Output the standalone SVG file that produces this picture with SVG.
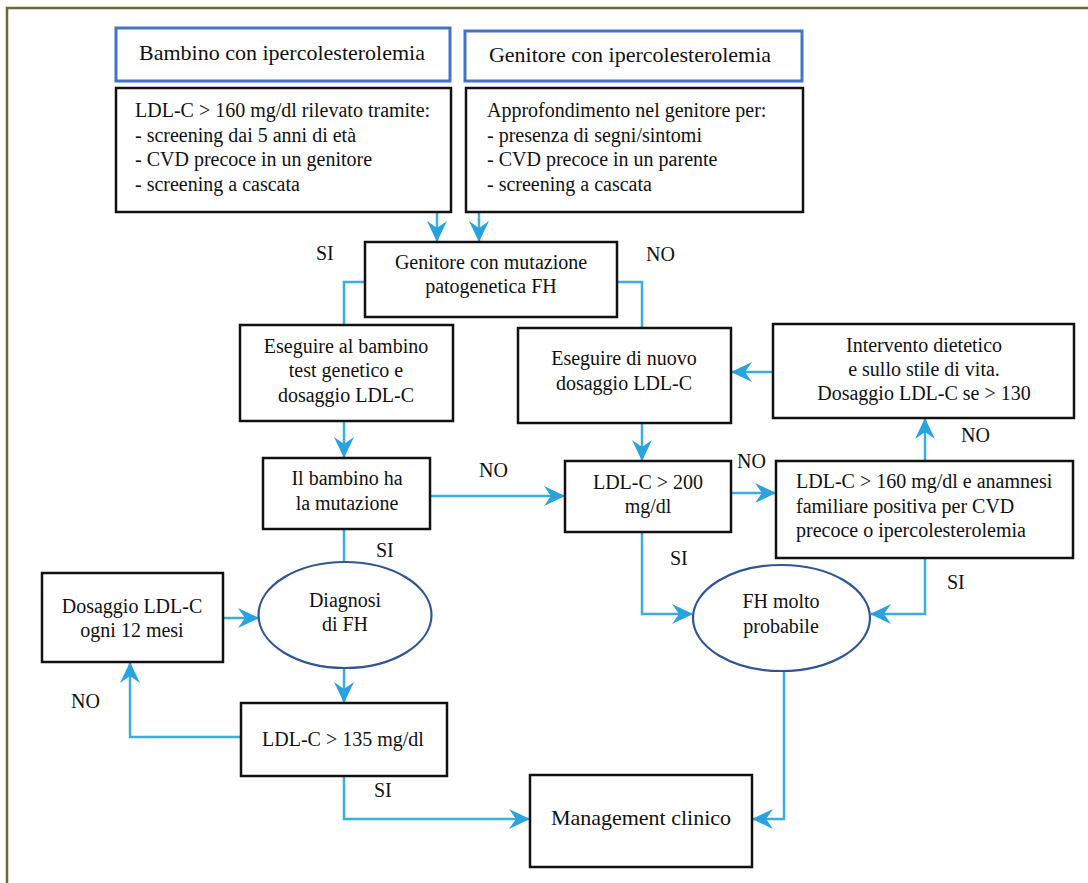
<svg xmlns="http://www.w3.org/2000/svg" width="1088" height="883" viewBox="0 0 1088 883">
<defs>
<style>
.box{fill:#fff;stroke:#111;stroke-width:2.5}
.hdr{fill:#fff;stroke:#4472C4;stroke-width:3}
.ell{fill:#fff;stroke:#2F5597;stroke-width:2.2}
.t{font-family:"Liberation Serif","Times New Roman",serif;font-size:20px;fill:#111}
.c{text-anchor:middle}
.h{font-size:22px}
.con path{fill:none;stroke:#3AAEE0;stroke-width:2.5}
.con path.a{marker-end:url(#arr)}
</style>
<marker id="arr" markerUnits="userSpaceOnUse" viewBox="-22 -11 24 22" markerWidth="24" markerHeight="22" refX="0" refY="0" orient="auto">
<path d="M1,0 L-20,-10 L-13,0 L-20,10 Z" fill="#29A3DD"/>
</marker>
</defs>
<rect x="0" y="0" width="1088" height="883" fill="#fff"/>
<rect x="7" y="8" width="1100" height="900" fill="none" stroke="#6B6838" stroke-width="2.5"/>

<g class="con" id="connectors">
<path class="a" d="M437,212 V241"/>
<path class="a" d="M479,212 V241"/>
<path d="M365,282 H344 V325"/>
<path d="M617,282 H642 V328"/>
<path class="a" d="M344,421 V457"/>
<path class="a" d="M430,496 H564"/>
<path d="M344,529 V563"/>
<path class="a" d="M223,618 H258"/>
<path class="a" d="M344,669 V702"/>
<path class="a" d="M241,737 H130 V663"/>
<path class="a" d="M344,776 V819 H529"/>
<path class="a" d="M642,423 V460"/>
<path class="a" d="M773,372 H732"/>
<path class="a" d="M731,493 H775"/>
<path class="a" d="M925,461 V419"/>
<path class="a" d="M642,532 V614 H692"/>
<path class="a" d="M925,558 V614 H871"/>
<path class="a" d="M784,671 V819 H753"/>
</g>

<g id="n-bambino-hdr">
<rect class="hdr" x="116" y="28" width="334" height="53"/>
<text class="t h c" x="282" y="60">Bambino con ipercolesterolemia</text>
</g>
<g id="n-genitore-hdr">
<rect class="hdr" x="465" y="31" width="337" height="50"/>
<text class="t h c" x="630" y="62">Genitore con ipercolesterolemia</text>
</g>
<g id="n-ldl160-rilevato">
<rect class="box" x="116" y="88" width="335" height="124"/>
<text class="t" x="135" y="117">LDL-C &gt; 160 mg/dl rilevato tramite:</text>
<text class="t" x="135" y="142">- screening dai 5 anni di età</text>
<text class="t" x="135" y="166">- CVD precoce in un genitore</text>
<text class="t" x="135" y="191">- screening a cascata</text>
</g>
<g id="n-approfondimento">
<rect class="box" x="466" y="88" width="337" height="124"/>
<text class="t" x="487" y="117">Approfondimento nel genitore per:</text>
<text class="t" x="487" y="142">- presenza di segni/sintomi</text>
<text class="t" x="487" y="166">- CVD precoce in un parente</text>
<text class="t" x="487" y="191">- screening a cascata</text>
</g>
<g id="n-genitore-mutazione">
<rect class="box" x="365" y="242" width="252" height="75"/>
<text class="t c" x="491" y="269">Genitore con mutazione</text>
<text class="t c" x="491" y="293">patogenetica FH</text>
</g>
<g id="n-eseguire-bambino">
<rect class="box" x="240" y="325" width="213" height="96"/>
<text class="t c" x="346" y="353">Eseguire al bambino</text>
<text class="t c" x="346" y="377">test genetico e</text>
<text class="t c" x="346" y="402">dosaggio LDL-C</text>
</g>
<g id="n-eseguire-nuovo">
<rect class="box" x="518" y="328" width="213" height="95"/>
<text class="t c" x="624" y="365">Eseguire di nuovo</text>
<text class="t c" x="624" y="390">dosaggio LDL-C</text>
</g>
<g id="n-intervento">
<rect class="box" x="773" y="324" width="301" height="94"/>
<text class="t c" x="924" y="352">Intervento dietetico</text>
<text class="t c" x="924" y="376">e sullo stile di vita.</text>
<text class="t c" x="924" y="400">Dosaggio LDL-C se &gt; 130</text>
</g>
<g id="n-bambino-mutazione">
<rect class="box" x="263" y="458" width="167" height="71"/>
<text class="t c" x="347" y="485">Il bambino ha</text>
<text class="t c" x="347" y="510">la mutazione</text>
</g>
<g id="n-ldl200">
<rect class="box" x="565" y="461" width="166" height="71"/>
<text class="t c" x="648" y="489">LDL-C &gt; 200</text>
<text class="t c" x="648" y="513">mg/dl</text>
</g>
<g id="n-ldl160-anamnesi">
<rect class="box" x="776" y="461" width="297" height="97"/>
<text class="t" x="796" y="488">LDL-C &gt; 160 mg/dl e anamnesi</text>
<text class="t" x="796" y="513">familiare positiva per CVD</text>
<text class="t" x="796" y="537">precoce o ipercolesterolemia</text>
</g>
<g id="n-dosaggio12">
<rect class="box" x="42" y="573" width="181" height="89"/>
<text class="t c" x="132" y="613">Dosaggio LDL-C</text>
<text class="t c" x="132" y="637">ogni 12 mesi</text>
</g>
<g id="n-diagnosi">
<ellipse class="ell" cx="345" cy="615" rx="86.5" ry="53"/>
<text class="t c" x="345" y="607">Diagnosi</text>
<text class="t c" x="345" y="631">di FH</text>
</g>
<g id="n-fh-probabile">
<ellipse class="ell" cx="781.5" cy="618" rx="88.5" ry="53"/>
<text class="t c" x="781" y="608">FH molto</text>
<text class="t c" x="781" y="633">probabile</text>
</g>
<g id="n-ldl135">
<rect class="box" x="241" y="703" width="206" height="73"/>
<text class="t c" x="343" y="746">LDL-C &gt; 135 mg/dl</text>
</g>
<g id="n-management">
<rect class="box" x="530" y="775" width="222" height="92"/>
<text class="t h c" x="641" y="825">Management clinico</text>
</g>

<g id="labels">
<text class="t" x="316" y="260">SI</text>
<text class="t" x="646" y="261">NO</text>
<text class="t" x="479" y="477">NO</text>
<text class="t" x="376" y="557">SI</text>
<text class="t" x="737" y="468">NO</text>
<text class="t" x="961" y="442">NO</text>
<text class="t" x="670" y="565">SI</text>
<text class="t" x="947" y="589">SI</text>
<text class="t" x="71" y="708">NO</text>
<text class="t" x="374" y="797">SI</text>
</g>
</svg>
